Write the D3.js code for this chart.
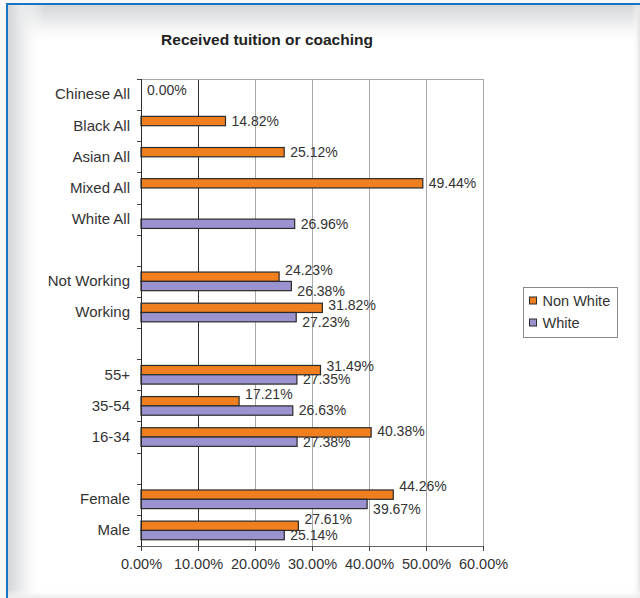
<!DOCTYPE html>
<html>
<head>
<meta charset="utf-8">
<script src="https://cdn.jsdelivr.net/npm/d3@7"></script>
<style>
  html, body { margin: 0; padding: 0; background: #ffffff; }
  svg { display: block; }
  text { font-family: "Liberation Sans", Arial, sans-serif; fill: #333; }
</style>
</head>
<body>
<svg id="chart" width="640" height="598"></svg>
<script>
// Rows from top to bottom; empty strings are spacer rows between groups
const categories = ["Chinese All", "Black All", "Asian All", "Mixed All", "White All", "",
  "Not Working", "Working", "", "55+", "35-54", "16-34", "", "Female", "Male"];
const seriesNames = ["Non White", "White"];
const nonWhite = [0.00, 14.82, 25.12, 49.44, null, null,
  24.23, 31.82, null, 31.49, 17.21, 40.38, null, 44.26, 27.61];
const white = [null, null, null, null, 26.96, null,
  26.38, 27.23, null, 27.35, 26.63, 27.38, null, 39.67, 25.14];
const xTicks = [0, 10, 20, 30, 40, 50, 60];

const colors = { "Non White": "#f07f1f", "White": "#9a93cf" };

// Vertical shifts applied to value labels so paired labels don't collide
const labelShift = {
  "Non White": { "Not Working": -7, "Working": -3, "55+": -4, "35-54": -7, "16-34": -1, "Female": -9, "Male": -7 },
  "White": { "Not Working": 5, "Working": 5, "Female": 5 }
};

const svg = d3.select("#chart");
const W = 640, H = 598;

// ---- card background with blue frame and soft inner shadow ----
const defs = svg.append("defs");
const gl = defs.append("linearGradient").attr("id", "shadeL").attr("x1", 0).attr("x2", 1).attr("y1", 0).attr("y2", 0);
gl.append("stop").attr("offset", 0).attr("stop-color", "#d4d5d7");
gl.append("stop").attr("offset", 0.35).attr("stop-color", "#e9eaeb");
gl.append("stop").attr("offset", 1).attr("stop-color", "#ffffff").attr("stop-opacity", 0);
const gt = defs.append("linearGradient").attr("id", "shadeT").attr("x1", 0).attr("x2", 0).attr("y1", 0).attr("y2", 1);
gt.append("stop").attr("offset", 0).attr("stop-color", "#d6d7d9");
gt.append("stop").attr("offset", 0.4).attr("stop-color", "#e9eaeb");
gt.append("stop").attr("offset", 1).attr("stop-color", "#ffffff").attr("stop-opacity", 0);
const gr = defs.append("linearGradient").attr("id", "shadeR").attr("x1", 1).attr("x2", 0).attr("y1", 0).attr("y2", 0);
gr.append("stop").attr("offset", 0).attr("stop-color", "#e4e4e4");
gr.append("stop").attr("offset", 1).attr("stop-color", "#ffffff").attr("stop-opacity", 0);
const gb = defs.append("linearGradient").attr("id", "shadeB").attr("x1", 0).attr("x2", 0).attr("y1", 1).attr("y2", 0);
gb.append("stop").attr("offset", 0).attr("stop-color", "#ececec");
gb.append("stop").attr("offset", 1).attr("stop-color", "#ffffff").attr("stop-opacity", 0);

svg.append("rect").attr("width", W).attr("height", H).attr("fill", "#f7f7f7");
svg.append("rect").attr("x", 8).attr("y", 5).attr("width", W - 8).attr("height", H - 5).attr("fill", "#ffffff");
svg.append("rect").attr("x", 8).attr("y", 5).attr("width", W - 8).attr("height", 40).attr("fill", "url(#shadeT)");
svg.append("rect").attr("x", 8).attr("y", 5).attr("width", 36).attr("height", H - 5).attr("fill", "url(#shadeL)");
svg.append("rect").attr("x", W - 8).attr("y", 5).attr("width", 8).attr("height", H - 5).attr("fill", "url(#shadeR)");
svg.append("rect").attr("x", 8).attr("y", H - 9).attr("width", W - 8).attr("height", 9).attr("fill", "url(#shadeB)");
svg.append("rect").attr("x", 6).attr("y", 3).attr("width", W - 6).attr("height", 2).attr("fill", "#1874c4");
svg.append("rect").attr("x", 6).attr("y", 3).attr("width", 2).attr("height", H - 3).attr("fill", "#1874c4");

// ---- title ----
svg.append("text")
  .attr("x", 267).attr("y", 45)
  .attr("text-anchor", "middle")
  .style("font-size", "15.5px").style("font-weight", "bold").style("fill", "#222")
  .text("Received tuition or coaching");

// ---- scales ----
const plot = { left: 141, right: 483, top: 79, bottom: 546 };
const x = d3.scaleLinear().domain([0, 60]).range([plot.left, plot.right]);
const y = d3.scaleBand().domain(d3.range(categories.length)).range([plot.top, plot.bottom]).padding(0);
const ySub = d3.scaleBand().domain(seriesNames).range([0, y.bandwidth()]).paddingInner(0).paddingOuter(0.67);

const g = svg.append("g");

// gridlines
g.selectAll("line.grid").data(xTicks.filter(t => t > 0)).join("line")
  .attr("class", "grid")
  .attr("x1", d => x(d)).attr("x2", d => x(d))
  .attr("y1", plot.top).attr("y2", plot.bottom)
  .attr("stroke", d => d === 10 ? "#2e2e2e" : "#a8a8a8")
  .attr("stroke-width", 1)
  .attr("shape-rendering", "crispEdges");
// plot top border
g.append("line")
  .attr("x1", plot.left).attr("x2", plot.right)
  .attr("y1", plot.top).attr("y2", plot.top)
  .attr("stroke", "#a8a8a8").attr("shape-rendering", "crispEdges");

// bars
const seriesData = { "Non White": nonWhite, "White": white };
seriesNames.forEach(name => {
  const vals = seriesData[name];
  const rows = vals.map((v, i) => ({ i, v })).filter(d => d.v !== null && d.v > 0);
  g.selectAll("rect.bar-" + name.replace(" ", "")).data(rows).join("rect")
    .attr("x", x(0))
    .attr("y", d => y(d.i) + ySub(name))
    .attr("width", d => x(d.v) - x(0))
    .attr("height", ySub.bandwidth())
    .attr("fill", colors[name])
    .attr("stroke", "#2a2a2a")
    .attr("stroke-width", 1.2);
});

// value labels
seriesNames.forEach(name => {
  const vals = seriesData[name];
  const rows = vals.map((v, i) => ({ i, v })).filter(d => d.v !== null);
  g.selectAll("text.lab-" + name.replace(" ", "")).data(rows).join("text")
    .attr("x", d => x(d.v) + 6)
    .attr("y", d => y(d.i) + ySub(name) + ySub.bandwidth() / 2 + ((labelShift[name] || {})[categories[d.i]] || 0))
    .attr("dy", "0.35em")
    .style("font-size", "14px")
    .text(d => d3.format(".2f")(d.v) + "%");
});

// left axis: labels at row centres, ticks at row boundaries
const yAxis = d3.axisLeft(y).tickSize(0).tickPadding(11).tickFormat(i => categories[i]);
const ya = svg.append("g").attr("transform", `translate(${plot.left},0)`).call(yAxis);
ya.select(".domain").remove();
ya.selectAll("text").style("font-size", "15px").style("fill", "#333")
  .style("font-family", "'Liberation Sans', Arial, sans-serif");
svg.append("g").selectAll("line").data(d3.range(categories.length + 1)).join("line")
  .attr("x1", plot.left - 4).attr("x2", plot.left)
  .attr("y1", i => Math.round(plot.top + i * y.step()) + 0.5)
  .attr("y2", i => Math.round(plot.top + i * y.step()) + 0.5)
  .attr("stroke", "#444");
svg.append("line")
  .attr("x1", plot.left + 0.5).attr("x2", plot.left + 0.5)
  .attr("y1", plot.top).attr("y2", plot.bottom)
  .attr("stroke", "#2a2a2a");

// bottom axis
const xAxis = d3.axisBottom(x).tickValues(xTicks).tickSize(5).tickPadding(8)
  .tickFormat(d => d3.format(".2f")(d) + "%");
const xa = svg.append("g").attr("transform", `translate(0,${plot.bottom})`).call(xAxis);
xa.select(".domain").attr("stroke", "#666");
xa.selectAll(".tick line").attr("stroke", "#444");
xa.selectAll("text").style("font-size", "14.5px").style("fill", "#333")
  .style("font-family", "'Liberation Sans', Arial, sans-serif");

// legend
const lg = svg.append("g").attr("transform", "translate(523.5,287.5)");
lg.append("rect").attr("width", 94).attr("height", 50)
  .attr("fill", "#ffffff").attr("stroke", "#8a8a8a");
seriesNames.forEach((name, k) => {
  const row = lg.append("g").attr("transform", `translate(6,${13 + k * 22})`);
  row.append("rect").attr("x", 0).attr("y", -3.5).attr("width", 7).attr("height", 7)
    .attr("fill", colors[name]).attr("stroke", "#2a2a2a");
  row.append("text").attr("x", 13).attr("y", 0).attr("dy", "0.35em")
    .style("font-size", "14.5px").text(name);
});
</script>
</body>
</html>
